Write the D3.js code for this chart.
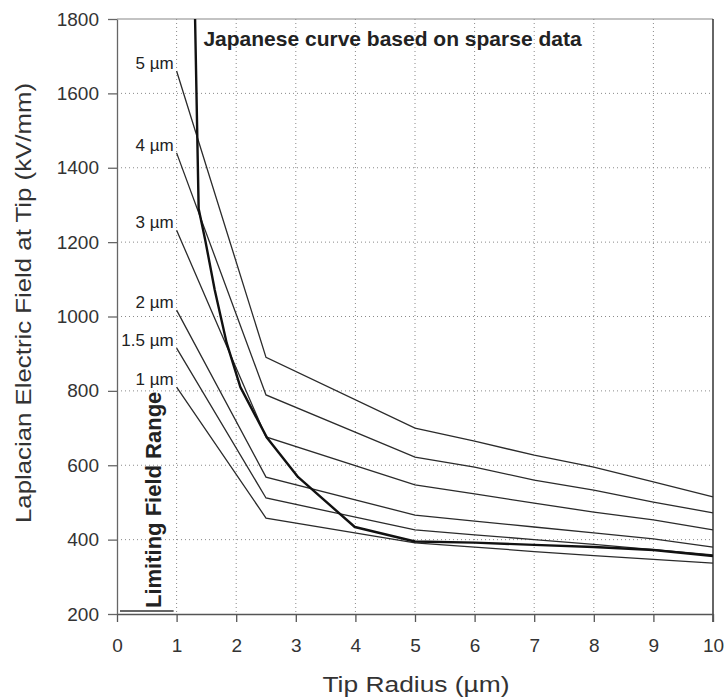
<!DOCTYPE html>
<html>
<head>
<meta charset="utf-8">
<script src="https://cdn.jsdelivr.net/npm/d3@7"></script>
<style>
  body { margin: 0; background: #fff; }
  svg { display: block; font-family: "Liberation Sans", Arial, sans-serif; }
</style>
</head>
<body>
<svg id="chart" width="727" height="699"></svg>
<script>
// Tip radius (µm) where the electrode curves were sampled
const radius = [1, 2.5, 5, 6, 7, 8, 9, 10];
// Laplacian field (kV/mm) for each gap curve
const field5 = [1660, 890, 700, 665, 627, 595, 555, 515];
const field4 = [1440, 789, 622, 595, 560, 533, 501, 472];
const field3 = [1232, 676, 547, 523, 498, 474, 453, 426];
const field2 = [1017, 568, 466, 450, 434, 418, 402, 380];
const field15 = [915, 512, 426, 413, 400, 387, 373, 359];
const field1 = [810, 458, 391, 380, 368, 357, 347, 337];
const curveLabels = ['5 µm', '4 µm', '3 µm', '2 µm', '1.5 µm', '1 µm'];

// Japanese curve based on sparse data
const japanRadius = [1.31, 1.37, 1.48, 1.64, 1.84, 2.07, 2.52, 3.04, 3.99, 5, 6, 7, 8, 9, 10];
const japanField = [1800, 1290, 1206, 1071, 929, 810, 673, 568, 434, 395, 392, 386, 380, 372, 356];

const xTicks = [0, 1, 2, 3, 4, 5, 6, 7, 8, 9, 10];
const yTicks = [200, 400, 600, 800, 1000, 1200, 1400, 1600, 1800];

(function () {
  const svg = d3.select('#chart');
  const margin = { top: 19, right: 14, bottom: 85, left: 117 };
  const width = 727 - margin.left - margin.right;
  const height = 699 - margin.top - margin.bottom;

  const g = svg.append('g')
    .attr('transform', 'translate(' + margin.left + ',' + margin.top + ')');

  const x = d3.scaleLinear().domain([0, 10]).range([0, width]);
  const y = d3.scaleLinear().domain([200, 1800]).range([height, 0]);

  // Dotted grid
  g.append('g').selectAll('line')
    .data(xTicks.filter(d => d > 0 && d < 10)).join('line')
    .attr('x1', d => x(d)).attr('x2', d => x(d))
    .attr('y1', 0).attr('y2', height)
    .attr('stroke', '#8a8a8a').attr('stroke-width', 1)
    .attr('stroke-dasharray', '1,3');
  g.append('g').selectAll('line')
    .data(yTicks.filter(d => d > 200 && d < 1800)).join('line')
    .attr('x1', 0).attr('x2', width)
    .attr('y1', d => y(d)).attr('y2', d => y(d))
    .attr('stroke', '#8a8a8a').attr('stroke-width', 1)
    .attr('stroke-dasharray', '1,3');

  // Frame: top and right border
  g.append('line').attr('x1', 0).attr('x2', width).attr('y1', 0).attr('y2', 0)
    .attr('stroke', '#888').attr('stroke-width', 1.2);
  g.append('line').attr('x1', width).attr('x2', width).attr('y1', 0).attr('y2', height + 8)
    .attr('stroke', '#333').attr('stroke-width', 1.5);

  // Axes
  g.append('g')
    .attr('transform', 'translate(0,' + height + ')')
    .call(d3.axisBottom(x).tickValues(xTicks).tickSize(8).tickPadding(17).tickSizeOuter(0))
    .call(ax => ax.selectAll('text').attr('font-size', 19).attr('fill', '#333'))
    .call(ax => ax.selectAll('line, path').attr('stroke', '#555').attr('stroke-width', 1.3));
  g.append('g')
    .call(d3.axisLeft(y).tickValues(yTicks).tickFormat(d3.format('d'))
      .tickSize(9).tickPadding(9).tickSizeOuter(0))
    .call(ax => ax.selectAll('text').attr('font-size', 19).attr('fill', '#333'))
    .call(ax => ax.selectAll('line, path').attr('stroke', '#666').attr('stroke-width', 1.3));

  // Axis titles
  svg.append('text')
    .attr('x', 416).attr('y', 692)
    .attr('text-anchor', 'middle').attr('font-size', 22).attr('fill', '#333')
    .attr('textLength', 187).attr('lengthAdjust', 'spacingAndGlyphs')
    .text('Tip Radius (µm)');
  svg.append('text')
    .attr('transform', 'translate(31,303) rotate(-90)')
    .attr('text-anchor', 'middle').attr('font-size', 22).attr('fill', '#333')
    .attr('textLength', 440).attr('lengthAdjust', 'spacingAndGlyphs')
    .text('Laplacian Electric Field at Tip (kV/mm)');

  // Gap curves
  const line = d3.line().x(d => x(d[0])).y(d => y(d[1]));
  const series = [field5, field4, field3, field2, field15, field1];
  series.forEach((vals, i) => {
    g.append('path')
      .attr('d', line(radius.map((r, j) => [r, vals[j]])))
      .attr('fill', 'none').attr('stroke', '#2b2b2b').attr('stroke-width', 1.3);
    g.append('text')
      .attr('x', x(radius[0]) - 3).attr('y', y(vals[0]) - 2)
      .attr('text-anchor', 'end').attr('font-size', 17).attr('fill', '#222')
      .text(curveLabels[i]);
  });

  // Japanese curve
  g.append('path')
    .attr('d', line(japanRadius.map((r, j) => [r, japanField[j]])))
    .attr('fill', 'none').attr('stroke', '#111').attr('stroke-width', 2.4)
    .attr('stroke-linejoin', 'round');
  g.append('text')
    .attr('x', x(1.45)).attr('y', 27)
    .attr('font-size', 21).attr('font-weight', 'bold').attr('fill', '#222')
    .text('Japanese curve based on sparse data');

  // Limiting field range
  g.append('line')
    .attr('x1', x(0.05)).attr('x2', x(0.95))
    .attr('y1', y(208)).attr('y2', y(208))
    .attr('stroke', '#333').attr('stroke-width', 1.5);
  g.append('text')
    .attr('transform', 'translate(' + (x(0.73)) + ',' + (y(208) - 3) + ') rotate(-90)')
    .attr('font-size', 22).attr('font-weight', 'bold').attr('fill', '#222')
    .text('Limiting Field Range');
})();
</script>
</body>
</html>
